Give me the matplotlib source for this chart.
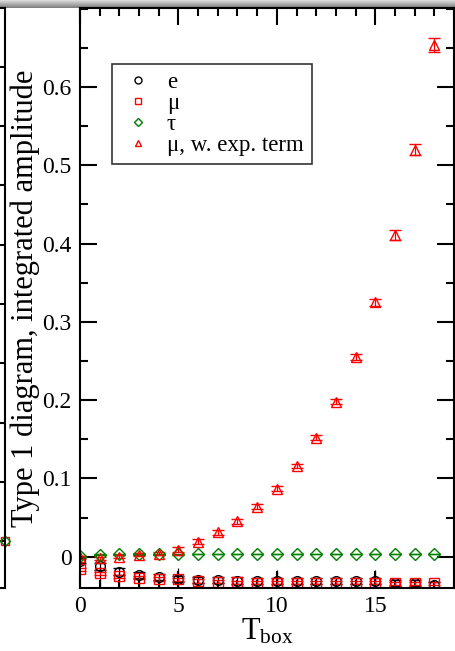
import numpy as np
import matplotlib
matplotlib.use("Agg")
from matplotlib import pyplot as plt
from matplotlib.ticker import MultipleLocator
from matplotlib.lines import Line2D

plt.rcParams["font.family"] = ["Liberation Serif", "DejaVu Serif"]
plt.rcParams["mathtext.fontset"] = "custom"
plt.rcParams["mathtext.rm"] = "Liberation Serif"
plt.rcParams["mathtext.it"] = "Liberation Serif:italic"

# data
t_box = np.arange(19)
amp_e = [-0.005, -0.0125, -0.019, -0.023, -0.026, -0.0285, -0.030, -0.030, -0.0305,
         -0.031, -0.031, -0.031, -0.031, -0.0315, -0.0315, -0.0315, -0.0335, -0.0335, -0.036]
err_e = [0.003, 0.005, 0.004, 0.004, 0.004, 0.004, 0.004, 0.004, 0.004, 0.004,
         0.004, 0.004, 0.004, 0.004, 0.004, 0.004, 0.004, 0.004, 0.004]
# long bars without caps (mostly cut by the bottom axis)
err_e_lo = [0, 0.03, 0.03, 0.03, 0.03, 0.014, 0, 0, 0, 0,
            0.014, 0, 0, 0, 0, 0.014, 0, 0, 0]
err_e_hi = [0, 0, 0, 0, 0, 0.014, 0, 0, 0, 0,
            0.014, 0, 0, 0, 0, 0.014, 0, 0, 0]
amp_mu = [-0.016, -0.021, -0.025, -0.027, -0.0285, -0.029, -0.031, -0.032, -0.0325, -0.033,
          -0.033, -0.033, -0.033, -0.033, -0.033, -0.0335, -0.034, -0.034, -0.034]
err_mu = [0.002] * 19
amp_tau = [0.0003, 0.0025, 0.003, 0.003, 0.003, 0.003, 0.0033, 0.0034, 0.0034, 0.0034,
           0.0034, 0.0034, 0.0034, 0.0034, 0.0034, 0.0034, 0.0034, 0.0034, 0.0034]
err_tau = [0.0005] * 19
amp_mu_exp = [-0.0005, -0.002, 0.0, 0.0025, 0.004, 0.009, 0.019, 0.031, 0.045, 0.064,
              0.087, 0.116, 0.152, 0.198, 0.255, 0.325, 0.411, 0.520, 0.654]
err_mu_exp = [0.002, 0.002, 0.002, 0.002, 0.002, 0.003, 0.003, 0.003, 0.003, 0.003,
              0.003, 0.003, 0.003, 0.003, 0.004, 0.0045, 0.006, 0.007, 0.009]
labels = ["e", "\u03bc", "\u03c4", "\u03bc, w. exp. term"]

W, H = 455, 651
fig = plt.figure(figsize=(W / 100, H / 100), dpi=100)

# window bar at top
bar = fig.add_axes([0, 1 - 8 / H, 1, 8 / H])
grad = np.array([0.85, 0.8, 0.75, 0.7, 0.65, 0.6, 0.55, 0.5])[:, None]
bar.imshow(grad, cmap="gray", vmin=0, vmax=1, aspect="auto")
bar.axis("off")

# neighbouring panel, cut off on the left
axl = fig.add_axes([-0.5, 63 / H, 0.5 + 5 / W, 580 / H])
axl.set_xlim(0, 1)
axl.set_ylim(-0.79, 8.99)
axl.set_yticks(range(9))
axl.set_xticks([])
axl.yaxis.tick_right()
axl.tick_params(axis="y", direction="in", length=4, width=1.5, labelright=False)
for s in axl.spines.values():
    s.set_linewidth(1.5)
axl.plot([1], [0], "s", ms=6, mfc="none", mec="red", mew=1, clip_on=False)
axl.plot([1], [0], "D", ms=5, mfc="none", mec="green", mew=1, clip_on=False)

ax = fig.add_axes([80 / W, 63 / H, 374 / W, 580 / H])
kw = dict(ls="none", mfc="none", mew=1.0, elinewidth=0.9, capsize=4.5, capthick=0.9)
ax.errorbar(t_box, amp_e, yerr=[err_e_lo, err_e_hi], fmt="none", ecolor="black",
            elinewidth=0.9, capsize=0)
ax.errorbar(t_box, amp_e, yerr=err_e, fmt="o", ms=7, color="black", **kw)
ax.errorbar(t_box, amp_mu, yerr=err_mu, fmt="s", ms=6.5, color="red", **kw)
ax.errorbar(t_box, amp_tau, yerr=err_tau, fmt="D", ms=6, color="green", **kw)
ax.errorbar(t_box, amp_mu_exp, yerr=err_mu_exp, fmt="^", ms=7.5, color="red", **kw)

ax.set_xlim(0, 19)
ax.set_ylim(-0.04, 0.701)
ax.xaxis.set_major_locator(MultipleLocator(5))
ax.xaxis.set_minor_locator(MultipleLocator(1))
ax.yaxis.set_minor_locator(MultipleLocator(0.05))
ax.set_yticks([0, 0.1, 0.2, 0.3, 0.4, 0.5, 0.6])
ax.set_yticklabels(["0", "0.1", "0.2", "0.3", "0.4", "0.5", "0.6"])
ax.tick_params(which="both", direction="in", top=True, right=True, width=1.5,
               labelsize=17, pad=6)
ax.tick_params(which="major", length=12)
ax.tick_params(which="minor", length=6)
for s in ax.spines.values():
    s.set_linewidth(1.5)

ax.set_xlabel(r"$\mathrm{T}_{\mathrm{box}}$", fontsize=22, labelpad=0)
ax.set_ylabel("Type 1 diagram, integrated amplitude", fontsize=22, labelpad=2)

handles = [
    Line2D([], [], ls="none", marker="o", ms=5, mfc="none", mec="black", mew=1),
    Line2D([], [], ls="none", marker="s", ms=4.5, mfc="none", mec="red", mew=1),
    Line2D([], [], ls="none", marker="D", ms=4.2, mfc="none", mec="green", mew=1),
    Line2D([], [], ls="none", marker="^", ms=5, mfc="none", mec="red", mew=1),
]
leg = ax.legend(handles, labels, loc="upper left", bbox_to_anchor=(32 / 374, 524 / 580),
                borderaxespad=0, fontsize=16.5, frameon=True, fancybox=False,
                edgecolor="black", labelspacing=0.0, handletextpad=0.45,
                handlelength=1.6, borderpad=0.35)
leg.get_frame().set_linewidth(1.2)

fig.savefig("out.png", dpi=100)
